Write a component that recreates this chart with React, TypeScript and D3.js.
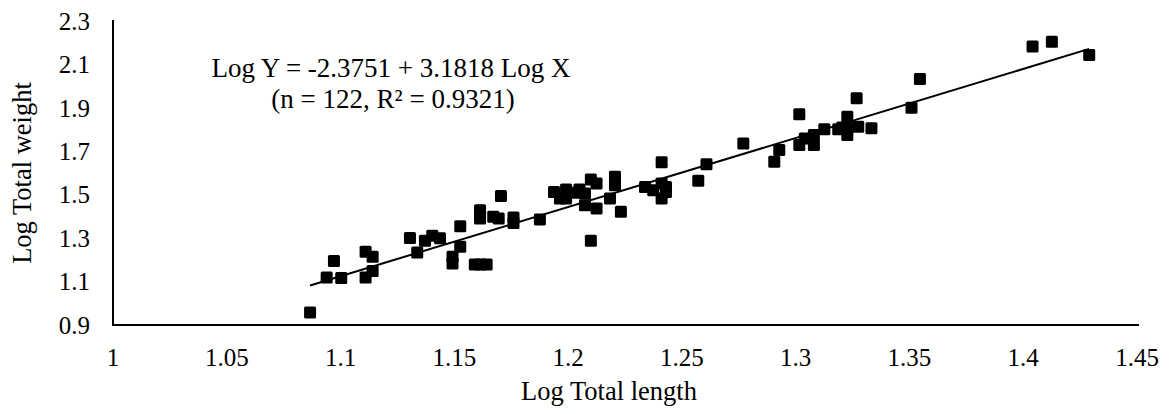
import React from "react";
import * as d3 from "d3";

// log total length (x) and log total weight (y)
const logLength = [
  1.0866, 1.0939, 1.0971, 1.1003, 1.111, 1.111, 1.1141, 1.1141, 1.1305, 1.1337,
  1.1371, 1.1403, 1.1437, 1.1492, 1.1492, 1.1526, 1.1526, 1.159, 1.1615, 1.1642,
  1.1613, 1.1613, 1.1613, 1.1671, 1.1695, 1.1705, 1.176, 1.176, 1.1876,
  1.1938, 1.1964, 1.1991, 1.1991, 1.203, 1.205, 1.2074, 1.2074, 1.21, 1.2125,
  1.21, 1.2125, 1.2206, 1.2206, 1.2184, 1.2232, 1.2338, 1.2374, 1.2411, 1.2411,
  1.243, 1.2411, 1.243, 1.2572, 1.2608,
  1.277, 1.2906, 1.2928, 1.3016, 1.3016, 1.304, 1.308, 1.308, 1.3126, 1.3187,
  1.3227, 1.3227, 1.3227, 1.3205, 1.3268, 1.3275, 1.3333, 1.3509, 1.3546,
  1.4041, 1.4126, 1.429,
];
const logWeight = [
  0.958, 1.119, 1.195, 1.116, 1.237, 1.119, 1.214, 1.149, 1.301, 1.234,
  1.288, 1.311, 1.299, 1.214, 1.183, 1.355, 1.26, 1.179, 1.179, 1.179,
  1.429, 1.405, 1.391, 1.398, 1.391, 1.494, 1.395, 1.37, 1.386,
  1.513, 1.483, 1.524, 1.483, 1.509, 1.524, 1.506, 1.452, 1.57, 1.552,
  1.288, 1.437, 1.583, 1.544, 1.483, 1.421, 1.536, 1.521, 1.649, 1.552,
  1.513, 1.483, 1.536, 1.564, 1.64,
  1.736, 1.652, 1.706, 1.871, 1.729, 1.759, 1.775, 1.729, 1.802, 1.802,
  1.859, 1.806, 1.775, 1.81, 1.944, 1.813, 1.806, 1.9, 2.033,
  2.182, 2.205, 2.143,
];

const xTicks = [1, 1.05, 1.1, 1.15, 1.2, 1.25, 1.3, 1.35, 1.4, 1.45];
const yTicks = [0.9, 1.1, 1.3, 1.5, 1.7, 1.9, 2.1, 2.3];

const intercept = -2.3751;
const slope = 3.1818;
const fitRange = [1.0866, 1.429];

const font = "'Liberation Serif', 'Times New Roman', serif";

export default function App() {
  const width = 1174;
  const height = 414;

  const x = d3.scaleLinear().domain([1, 1.45]).range([113, 1137]);
  const y = d3.scaleLinear().domain([0.9, 2.3]).range([325, 21]);

  const fitLine = d3
    .line<number>()
    .x(d => x(d))
    .y(d => y(intercept + slope * d));

  const size = 12;

  return (
    <svg
      width={width}
      height={height}
      style={{ position: "absolute", left: 0, top: 0, background: "#fff" }}
    >
      <g fontFamily={font} fill="#000">
        {/* axes */}
        <line x1={x(1)} x2={x(1)} y1={y(2.3) - 1} y2={y(0.9)} stroke="#000" strokeWidth={2} />
        <line x1={x(1) - 1} x2={x(1.45) + 2} y1={y(0.9)} y2={y(0.9)} stroke="#000" strokeWidth={2} />

        {yTicks.map(t => (
          <text key={t} x={90} y={y(t)} dy="0.35em" textAnchor="end" fontSize={25}>
            {d3.format(".1f")(t)}
          </text>
        ))}
        {xTicks.map(t => (
          <text key={t} x={x(t)} y={366} textAnchor="middle" fontSize={25}>
            {String(t)}
          </text>
        ))}

        <text x={609} y={400} textAnchor="middle" fontSize={26.5}>
          Log Total length
        </text>
        <text
          transform={`translate(31, ${(y(0.9) + y(2.3)) / 2}) rotate(-90)`}
          textAnchor="middle"
          fontSize={26.5}
        >
          Log Total weight
        </text>

        {/* regression */}
        <path d={fitLine(fitRange) || ""} fill="none" stroke="#000" strokeWidth={2} />

        {logLength.map((lx, i) => (
          <rect
            key={i}
            x={x(lx) - size / 2}
            y={y(logWeight[i]) - size / 2}
            width={size}
            height={size}
            rx={1.5}
            fill="#000"
          />
        ))}

        <text x={391} y={77} textAnchor="middle" fontSize={27}>
          Log Y = -2.3751 + 3.1818 Log X
        </text>
        <text x={393} y={108} textAnchor="middle" fontSize={27}>
          (n = 122, R² = 0.9321)
        </text>
      </g>
    </svg>
  );
}
